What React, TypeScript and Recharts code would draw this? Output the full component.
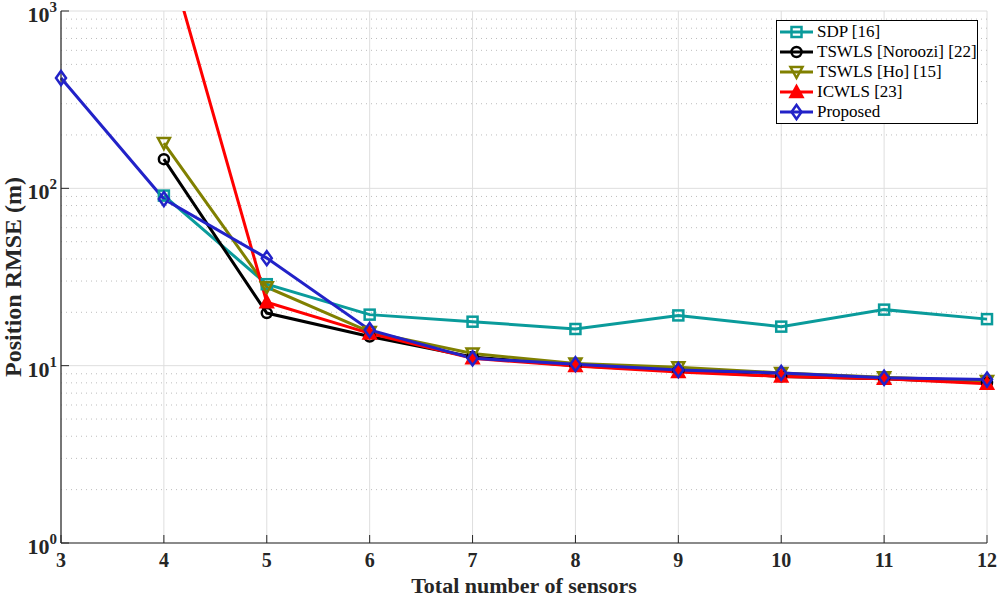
import React from "react";
import {
  LineChart,
  Line,
  XAxis,
  YAxis,
  CartesianGrid,
  ReferenceLine,
  Legend,
  Label,
} from "recharts";

const sensors = [3, 4, 5, 6, 7, 8, 9, 10, 11, 12];
const sdp = [null, 91, 28.8, 19.4, 17.7, 16.1, 19.2, 16.6, 20.7, 18.3];
const noroozi = [null, 146, 19.8, 14.6, 11.2, 10.0, 9.35, 8.7, 8.45, 8.0];
const ho = [null, 180, 27.7, 15.5, 11.7, 10.3, 9.8, 9.1, 8.6, 8.2];
const icwls = [null, 2500, 22.8, 15.2, 11.0, 9.95, 9.2, 8.7, 8.45, 7.9];
const proposed = [419, 87, 40.4, 15.9, 11.0, 10.2, 9.45, 9.1, 8.55, 8.35];

const majorTicks = [1, 10, 100, 1000];
const minorTicks = [
  2, 3, 4, 5, 6, 7, 8, 9, 20, 30, 40, 50, 60, 70, 80, 90, 200, 300, 400, 500,
  600, 700, 800, 900,
];

const data = sensors.map((n, i) => ({
  n,
  sdp: sdp[i],
  noroozi: noroozi[i],
  ho: ho[i],
  icwls: icwls[i],
  proposed: proposed[i],
}));

const FONT = '"Liberation Serif", "Times New Roman", Times, "DejaVu Serif", serif';
const AXIS = "#262626";

const series = [
  { key: "sdp", name: "SDP [16]", color: "#0a9b9b", shape: "square" },
  { key: "noroozi", name: "TSWLS [Noroozi] [22]", color: "#000000", shape: "circle" },
  { key: "ho", name: "TSWLS [Ho] [15]", color: "#808000", shape: "down" },
  { key: "icwls", name: "ICWLS [23]", color: "#ff0000", shape: "up" },
  { key: "proposed", name: "Proposed", color: "#2222c8", shape: "diamond" },
];

function Marker({ shape, color, cx, cy }: any) {
  const sw = 2.5;
  if (shape === "square")
    return <rect x={cx - 5} y={cy - 5} width={10} height={10} fill="none" stroke={color} strokeWidth={sw} />;
  if (shape === "circle")
    return <circle cx={cx} cy={cy} r={5} fill="none" stroke={color} strokeWidth={sw} />;
  if (shape === "down")
    return (
      <polygon
        points={`${cx - 6},${cy - 5} ${cx + 6},${cy - 5} ${cx},${cy + 6}`}
        fill="none"
        stroke={color}
        strokeWidth={sw}
      />
    );
  if (shape === "up")
    return (
      <polygon
        points={`${cx - 6},${cy + 5} ${cx + 6},${cy + 5} ${cx},${cy - 6}`}
        fill={color}
        stroke={color}
        strokeWidth={sw}
      />
    );
  return (
    <polygon
      points={`${cx},${cy - 7} ${cx + 5},${cy} ${cx},${cy + 7} ${cx - 5},${cy}`}
      fill="none"
      stroke={color}
      strokeWidth={sw}
    />
  );
}

const makeDot = (shape: string, color: string) => (props: any) => {
  const { cx, cy, index } = props;
  if (cx == null || cy == null || props.value == null) return <g key={`d-${index}`} />;
  return (
    <g key={`d-${index}`}>
      <Marker shape={shape} color={color} cx={cx} cy={cy} />
    </g>
  );
};

const XTick = (props: any) => {
  const { x, y, payload } = props;
  return (
    <g>
      <line x1={x} x2={x} y1={y} y2={y - 8} stroke={AXIS} strokeWidth={1} />
      <text x={x} y={y + 24} textAnchor="middle" style={{ fontFamily: FONT, fontWeight: "bold", fontSize: 20 }} fill={AXIS}>
        {payload.value}
      </text>
    </g>
  );
};

const YTick = (props: any) => {
  const { x, y, payload } = props;
  const exp = Math.round(Math.log10(payload.value));
  return (
    <g>
      <line x1={x} x2={x + 8} y1={y} y2={y} stroke={AXIS} strokeWidth={1} />
      <text x={x - 4} y={y + 11} textAnchor="end" style={{ fontFamily: FONT, fontWeight: "bold", fontSize: 22 }} fill={AXIS}>
        10
        <tspan dy={-10} style={{ fontSize: 15 }}>
          {exp}
        </tspan>
      </text>
    </g>
  );
};

const LegendBox = () => (
  <svg width={202} height={104} style={{ display: "block" }}>
    <rect x={0.5} y={0.5} width={201} height={103} fill="#fff" stroke="#000" strokeWidth={1} />
    {series.map((s, i) => {
      const cy = 12 + i * 20;
      return (
        <g key={s.key}>
          <line x1={4} x2={37} y1={cy} y2={cy} stroke={s.color} strokeWidth={3} />
          <Marker shape={s.shape} color={s.color} cx={20.5} cy={cy} />
          <text x={41} y={cy + 5} style={{ fontFamily: FONT, fontSize: 17 }} fill="#000">
            {s.name}
          </text>
        </g>
      );
    })}
  </svg>
);

export default function App() {
  return (
    <div style={{ position: "absolute", left: 0, top: 0, width: 997, height: 598, background: "#fff" }}>
      <LineChart width={997} height={598} data={data} margin={{ top: 11, right: 10, bottom: 0, left: 0 }}>
        <CartesianGrid vertical horizontal stroke="#dedede" strokeWidth={1} />
        {minorTicks.map((v) => (
          <ReferenceLine key={v} y={v} stroke="#bdbdbd" strokeDasharray="1 4" strokeWidth={1} />
        ))}
        <XAxis
          dataKey="n"
          type="number"
          domain={[3, 12]}
          ticks={sensors}
          height={55}
          tickSize={0}
          tickMargin={0}
          tickLine={false}
          tick={<XTick />}
          axisLine={{ stroke: AXIS, strokeWidth: 1.2 }}
        >
          <Label
            value="Total number of sensors"
            position="insideBottom"
            offset={5}
            style={{ fontFamily: FONT, fontWeight: "bold", fontSize: 22, fill: AXIS }}
          />
        </XAxis>
        <YAxis
          scale="log"
          domain={[1, 1000]}
          ticks={majorTicks}
          allowDataOverflow
          width={61}
          tickSize={0}
          tickMargin={0}
          tickLine={false}
          tick={<YTick />}
          axisLine={{ stroke: AXIS, strokeWidth: 1.2 }}
        >
          <Label
            value="Position RMSE (m)"
            angle={-90}
            position="insideLeft"
            offset={12}
            style={{ textAnchor: "middle", fontFamily: FONT, fontWeight: "bold", fontSize: 24, fill: AXIS }}
          />
        </YAxis>
        {series.map((s) => (
          <Line
            key={s.key}
            dataKey={s.key}
            name={s.name}
            stroke={s.color}
            strokeWidth={3}
            type="linear"
            isAnimationActive={false}
            dot={makeDot(s.shape, s.color)}
            activeDot={false}
          />
        ))}
        <Legend
          layout="vertical"
          align="center"
          verticalAlign="middle"
          wrapperStyle={{ left: 776, top: 20, width: 202 }}
          content={() => <LegendBox />}
        />
      </LineChart>
    </div>
  );
}
